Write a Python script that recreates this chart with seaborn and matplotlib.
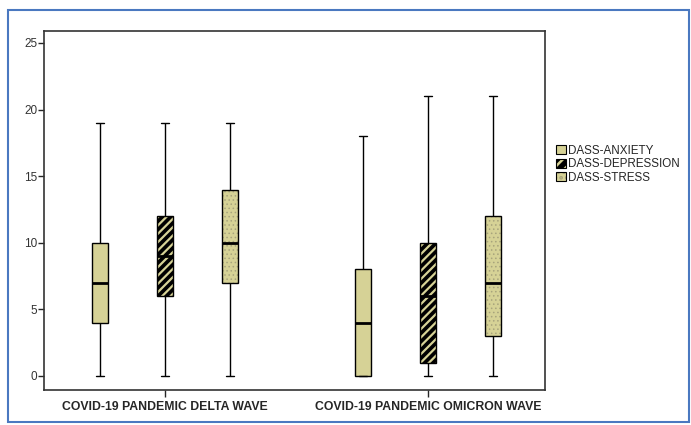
import pandas as pd
import seaborn as sns
import matplotlib.pyplot as plt
from matplotlib.patches import Patch, Rectangle

waves = ['COVID-19 PANDEMIC DELTA WAVE', 'COVID-19 PANDEMIC OMICRON WAVE']
scales = ['DASS-ANXIETY', 'DASS-DEPRESSION', 'DASS-STRESS']

# min, Q1, median, Q3, max
delta_anxiety = [0, 4, 7, 10, 19]
delta_depression = [0, 6, 9, 12, 19]
delta_stress = [0, 7, 10, 14, 19]
omicron_anxiety = [0, 0, 4, 8, 18]
omicron_depression = [0, 1, 6, 10, 21]
omicron_stress = [0, 3, 7, 12, 21]

yticks = [0, 5, 10, 15, 20, 25]

tan = '#D6D296'
dotcol = '#A8A47C'

rows = []
for wave, vals in zip(waves, [[delta_anxiety, delta_depression, delta_stress],
                              [omicron_anxiety, omicron_depression, omicron_stress]]):
    for scale, v in zip(scales, vals):
        for x in v:
            rows.append((wave, scale, x))
df = pd.DataFrame(rows, columns=['wave', 'scale', 'score'])

sns.set_style('white')
plt.rcParams['font.family'] = ['Liberation Sans', 'DejaVu Sans']
plt.rcParams['hatch.linewidth'] = 1.8

fig = plt.figure(figsize=(6.91, 4.25), dpi=100)
ax = fig.add_axes([0.0637, 0.0824, 0.7255, 0.8447])

sns.boxplot(
    data=df, x='wave', y='score', hue='scale',
    order=waves, hue_order=scales,
    palette=[tan, tan, tan],
    width=0.74, gap=0.75,
    whis=(0, 100),
    linecolor='black', linewidth=1,
    medianprops={'linewidth': 2, 'color': 'black'},
    saturation=1,
    ax=ax,
)

def style_hatch(p, hatch, c, lw):
    p.set_hatch(hatch)
    if hasattr(p, 'set_hatchcolor'):
        p.set_hatchcolor(c)
    else:
        p._hatch_color = plt.matplotlib.colors.to_rgba(c)
    if hasattr(p, 'set_hatch_linewidth'):
        p.set_hatch_linewidth(lw)

# boxes are drawn per hue level, one per wave
for i, p in enumerate(ax.patches):
    level = i // len(waves)
    if level == 1:
        p.set_facecolor('black')
        style_hatch(p, '////', tan, 1.6)
    elif level == 2:
        style_hatch(p, '....', dotcol, 0.6)

if ax.get_legend():
    ax.get_legend().remove()

h1 = Patch(facecolor=tan, edgecolor='black', lw=0.8)
h2 = Patch(facecolor='black', edgecolor='black', lw=0.8)
style_hatch(h2, '///', tan, 1.5)
h3 = Patch(facecolor=tan, edgecolor='black', lw=0.8)
style_hatch(h3, '...', dotcol, 0.6)
ax.legend([h1, h2, h3], scales, loc='upper left', bbox_to_anchor=(1.01, 0.70),
          frameon=False, fontsize=8.4, handlelength=0.8, handleheight=0.8,
          handletextpad=0.2, labelspacing=0.15, borderpad=0)

ax.set_xlim(-0.46, 1.445)
ax.set_ylim(-1.05, 25.9)
ax.set_yticks(yticks)
ax.set_xlabel('')
ax.set_ylabel('')
ax.tick_params(axis='y', labelsize=8.5, labelcolor='#333333', length=4, width=1,
               direction='out', left=True, pad=1)
ax.tick_params(axis='x', length=5, width=1, direction='out', bottom=True, pad=3)
for lab in ax.get_xticklabels():
    lab.set_fontweight('bold')
    lab.set_fontsize(8.8)
for s in ax.spines.values():
    s.set_color('#333333')
    s.set_linewidth(1.2)

fig.patches.append(Rectangle((8 / 691, 3 / 425), 681 / 691, 412 / 425,
                             transform=fig.transFigure, fill=False,
                             edgecolor='#4A78C0', lw=1.5))

fig.savefig('out.png', dpi=100)
